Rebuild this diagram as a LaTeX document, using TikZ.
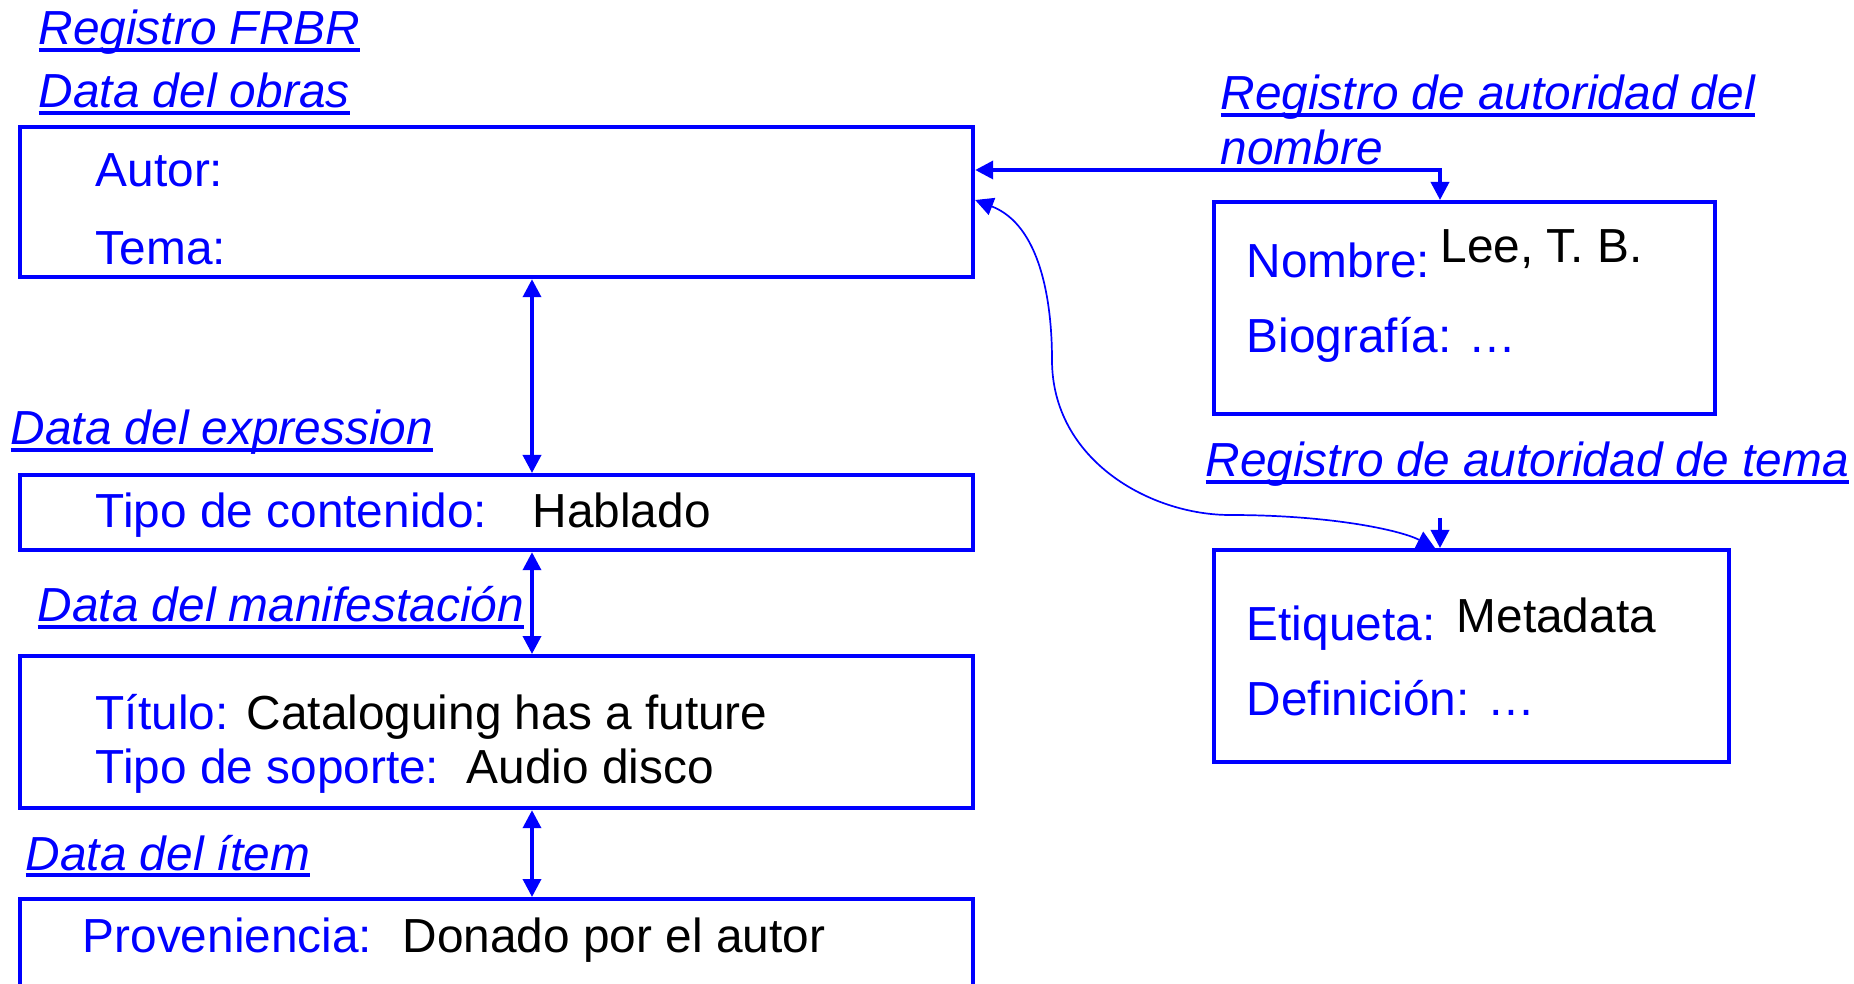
\documentclass[tikz,border=0pt]{standalone}
\usepackage{fontspec}
\setmainfont{Liberation Sans}
\usetikzlibrary{arrows.meta}
\definecolor{frbrblue}{RGB}{0,0,255}
% italic underlined heading, rule crossing the descenders
\newcommand{\reglabel}[1]{\setbox0\hbox{\itshape #1}\rlap{\rule[-0.7mm]{\wd0}{0.36mm}}\box0}

\begin{document}
\begin{tikzpicture}[
            x=0.1mm, y=-0.1mm,
            font=\fontsize{13.6}{16}\selectfont,
            record/.style={draw=frbrblue, line width=0.42mm, anchor=north west, inner sep=0pt},
            field/.style={anchor=base west, inner sep=0pt, text=frbrblue},
            value/.style={anchor=base west, inner sep=0pt, text=black},
            heading/.style={anchor=base west, inner sep=0pt, text=frbrblue},
            link/.style={draw=frbrblue, line width=0.36mm, {Triangle[length=1.8mm, width=1.8mm]}-{Triangle[length=1.8mm, width=1.8mm]}},
            curvelink/.style={link, line width=0.17mm}
        ]
            \useasboundingbox (0,0) rectangle (1854,984);
            \clip (0,0) rectangle (1854,984);
            % FRBR records
            \node[record, minimum width=95.3mm, minimum height=15.0mm] (obra)  at (18,125) {};
            \node[record, minimum width=95.3mm, minimum height=7.5mm]  (expr)  at (18,473) {};
            \node[record, minimum width=95.3mm, minimum height=15.2mm] (manif) at (18,654) {};
            \node[record, minimum width=95.3mm, minimum height=16.0mm] (item)  at (18,897) {};
            % authority records
            \node[record, minimum width=50.1mm, minimum height=21.2mm] (nombre) at (1212,200) {};
            \node[record, minimum width=51.5mm, minimum height=21.2mm] (tema)   at (1212,548) {};
            % headings
            \node[heading] (hfrbr)   at (38,45)   {\reglabel{Registro FRBR}};
            \node[heading] (hobra)   at (38,108)  {\reglabel{Data del obras}};
            \node[heading] (hexpr)   at (10,445)  {\reglabel{Data del expression}};
            \node[heading] (hmanif)  at (37,622)  {\reglabel{Data del manifestación}};
            \node[heading] (hitem)   at (25,870)  {\reglabel{Data del ítem}};
            \node[heading] (hnomA)   at (1220,110) {\reglabel{Registro de autoridad del}};
            \node[heading] (hnomB)   at (1220,165) {\reglabel{nombre}};
            \node[heading] (htema)   at (1205,477) {\reglabel{Registro de autoridad de tema}};
            % fields and values
            \node[field] (autor)   at (95,187)  {Autor:};
            \node[field] (tem)     at (95,265)  {Tema:};
            \node[field] (tipo)    at (95,528)  {Tipo de contenido:};
            \node[value] (hablado) at (532,528) {Hablado};
            \node[field] (titulo)  at (95,729)  {Título:};
            \node[value] (catal)   at (246,729) {Cataloguing has a future};
            \node[field] (soporte) at (95,783)  {Tipo de soporte:};
            \node[value] (audio)   at (466,783) {Audio disco};
            \node[field] (prov)    at (82,952)  {Proveniencia:};
            \node[value] (donado)  at (402,952) {Donado por el autor};
            \node[field] (nom)     at (1246,278) {Nombre:};
            \node[value] (lee)     at (1440,263) {Lee, T. B.};
            \node[field] (bio)     at (1246,353) {Biografía: …};
            \node[field] (etiq)    at (1246,640) {Etiqueta:};
            \node[value] (meta)    at (1456,633) {Metadata};
            \node[field] (defin)   at (1246,715) {Definición: …};
            % connectors
            \coordinate (col)  at (532,0);
            \coordinate (hook) at (1440,170);
            \coordinate (stub) at (1440,518);
            \draw[link] (obra.south -| col) -- (expr.north -| col);
            \draw[link] (expr.south -| col) -- (manif.north -| col);
            \draw[link] (manif.south -| col) -- (item.north -| col);
            \draw[link] (obra.east |- hook) -- (hook) -- (nombre.north -| hook);
            \draw[curvelink] (obra.east |- 0,200) .. controls (1040,225) and (1052,300) .. (1052,360)
                .. controls (1052,460) and (1150,515) .. (1230,515)
                .. controls (1330,515) and (1400,530) .. (tema.north -| 1435,0);
            \draw[draw=frbrblue, line width=0.36mm, -{Triangle[length=1.8mm, width=1.8mm]}] (stub) -- (stub |- tema.north);
        \end{tikzpicture}
\end{document}
